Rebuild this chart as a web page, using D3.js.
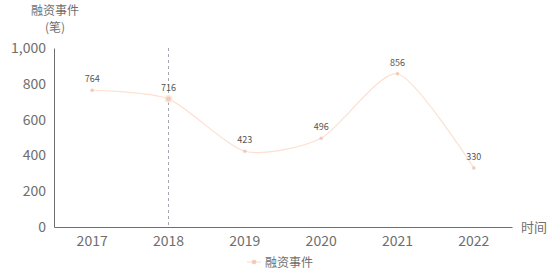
<!DOCTYPE html>
<html><head><meta charset="utf-8">
<script src="https://cdn.jsdelivr.net/npm/d3@7"></script>
<style>body{margin:0;background:#fff}svg{display:block}</style>
</head><body><svg id="c" width="560" height="280"></svg>
<script>
const categories = ["2017","2018","2019","2020","2021","2022"];
const values = [764, 716, 423, 496, 856, 330];
const yTicks = [0, 200, 400, 600, 800, 1000];
const seriesName = "融资事件";
const yName = ["融资事件", "(笔)"];
const xName = "时间";
const highlighted = "2018";

const svg = d3.select("#c");
const font = "'Noto Sans CJK SC','Noto Sans',sans-serif";
const lineColor = "#fde0d0", dotColor = "#efcbbb", textColor = "#6e6e6e";

const x = d3.scaleBand().domain(categories).range([54, 512]);
const y = d3.scaleLinear().domain([0, 1000]).range([227, 48]);
const cx = d => x(d) + x.bandwidth() / 2;

// y axis
const ya = svg.append("g").attr("transform", "translate(54,0)")
  .call(d3.axisLeft(y).tickValues(yTicks).tickSize(0).tickPadding(8).tickFormat(d3.format(",")));
ya.select(".domain").attr("stroke", "#6e6e6e");
ya.selectAll("text").attr("font-family", font).attr("font-size", 14).attr("fill", textColor);

// x axis
const xa = svg.append("g").attr("transform", "translate(0,227)")
  .call(d3.axisBottom(x).tickSize(0).tickPadding(9));
xa.select(".domain").attr("stroke", "#6e6e6e");
xa.selectAll("text").attr("font-family", font).attr("font-size", 14).attr("fill", textColor);

// axis names
svg.append("text").attr("x", 55).attr("y", 15).attr("text-anchor", "middle")
  .attr("font-family", font).attr("font-size", 12).attr("fill", textColor).text(yName[0]);
svg.append("text").attr("x", 55).attr("y", 32).attr("text-anchor", "middle")
  .attr("font-family", font).attr("font-size", 12).attr("fill", textColor).text(yName[1]);
svg.append("text").attr("x", 521).attr("y", 232)
  .attr("font-family", font).attr("font-size", 13).attr("fill", textColor).text(xName);

// axis pointer
svg.append("line").attr("x1", cx(highlighted)).attr("x2", cx(highlighted))
  .attr("y1", y(1000)).attr("y2", y(0))
  .attr("stroke", "#a8a8b0").attr("stroke-dasharray", "3,3").attr("stroke-width", 1);

// line
const data = categories.map((c, i) => ({c, v: values[i]}));
svg.append("path").datum(data)
  .attr("fill", "none").attr("stroke", lineColor).attr("stroke-width", 1.2)
  .attr("d", d3.line().x(d => cx(d.c)).y(d => y(d.v)).curve(d3.curveCardinal.tension(0.3)));

svg.selectAll("circle.pt").data(data).enter().append("circle")
  .attr("cx", d => cx(d.c)).attr("cy", d => y(d.v))
  .attr("r", d => d.c === highlighted ? 3.2 : 1.8)
  .attr("fill", dotColor).attr("stroke", d => d.c === highlighted ? "#fde8dd" : "none").attr("stroke-width", 1.5);

svg.selectAll("text.lbl").data(data).enter().append("text")
  .attr("x", d => cx(d.c)).attr("y", d => y(d.v) - 8).attr("text-anchor", "middle")
  .attr("font-family", font).attr("font-size", 9).attr("fill", "#555").text(d => d.v);

// legend
const lg = svg.append("g");
lg.append("line").attr("x1", 247).attr("x2", 261).attr("y1", 262).attr("y2", 262)
  .attr("stroke", lineColor).attr("stroke-width", 1.2);
lg.append("circle").attr("cx", 254).attr("cy", 262).attr("r", 2.3).attr("fill", dotColor);
lg.append("text").attr("x", 265).attr("y", 266.5).attr("font-family", font)
  .attr("font-size", 12).attr("fill", textColor).text(seriesName);
</script></body></html>
